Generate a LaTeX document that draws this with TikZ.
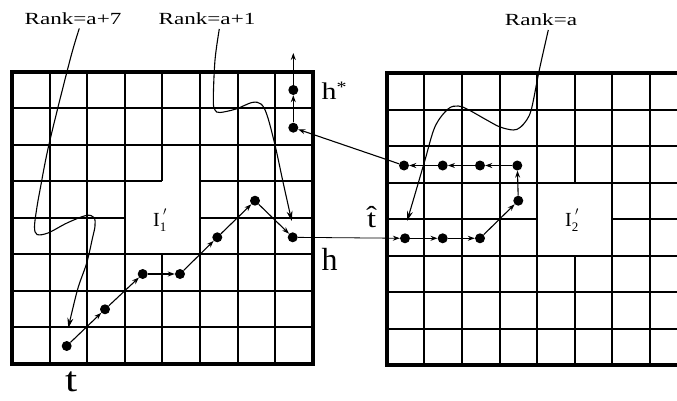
\documentclass[tikz,border=0pt]{standalone}
\usepackage{fontspec}
\setmainfont{Liberation Serif}
\newfontfamily\widefont[FakeStretch=1.36]{Liberation Serif}
\newfontfamily\midfont[FakeStretch=1.25]{Liberation Serif}
\usetikzlibrary{arrows.meta}
\newcommand{\ilabel}[1]{I\raisebox{-5pt}{\fontsize{13}{13}\selectfont #1}\llap{\raisebox{11pt}{\fontsize{12}{12}\selectfont$\prime$}}}
\begin{document}
\begin{tikzpicture}[x=1pt,y=-1pt,
  gridline/.style={line width=1.7pt},
  frame/.style={line width=4pt},
  dot/.style={circle,fill=black,inner sep=0pt,minimum size=10pt},
  link/.style={line width=1.1pt,-{Stealth[length=7pt,width=5pt]}},
  thinlink/.style={line width=0.8pt,-{Stealth[length=7pt,width=5pt]}},
  wave/.style={line width=1.1pt,-{Stealth[length=10pt,width=6pt]}},
  rank/.style={inner sep=1pt,font=\widefont\fontsize{17}{20}\selectfont},
  lab/.style={inner sep=0pt, anchor=base west},
]
\useasboundingbox (0,0) rectangle (677,401);
\clip (0,0) rectangle (677,401);
% ---------- left grid ----------
\foreach \x in {50,87,125,200,238,275} \draw[gridline] (\x,72) -- (\x,364);
\draw[gridline] (162,72) -- (162,181) (162,254) -- (162,364);
\foreach \y in {108,145,254,291,327} \draw[gridline] (12,\y) -- (313,\y);
\draw[gridline] (12,181) -- (162,181) (200,181) -- (313,181);
\draw[gridline] (12,218) -- (125,218) (200,218) -- (313,218);
\draw[frame] (12,72) rectangle (313,364);
% ---------- right grid ----------
\foreach \x in {424,462,500,537,612,650} \draw[gridline] (\x,73) -- (\x,365);
\draw[gridline] (575,73) -- (575,183) (575,256) -- (575,365);
\foreach \y in {110,146,183,256,292,329} \draw[gridline] (387,\y) -- (700,\y);
\draw[gridline] (387,219) -- (537,219) (612,219) -- (700,219);
\draw[frame] (700,73) -- (387,73) -- (387,365) -- (700,365);
% ---------- labels ----------
\node[rank] (L7) at (73,18.5) {Rank=a+7};
\node[rank] (L1) at (207,18.5) {Rank=a+1};
\node[rank] (L0) at (541,19.5) {Rank=a};
\node[lab] (I1) at (153,226) {\fontsize{20}{24}\selectfont\ilabel{1}};
\node[lab] (I2) at (565,226) {\fontsize{20}{24}\selectfont\ilabel{2}};
\node[lab] (tlab) at (65,391.5) {\midfont\fontsize{35}{40}\selectfont t};
\node[lab] (hlab) at (321.5,270.5) {\fontsize{32}{36}\selectfont h};
\node[lab] (hslab) at (321.5,100) {\midfont\fontsize{24}{28}\selectfont h\raisebox{0.3em}{\fontsize{16}{19}\selectfont *}};
\node[lab] (thlab) at (367,227) {\midfont\fontsize{26}{30}\selectfont \^{t}};
% ---------- dots ----------
\node[dot] (t) at (66.7,346) {};
\node[dot] (p2) at (105,309.3) {};
\node[dot] (p3) at (142.7,274) {};
\node[dot] (p4) at (180,274) {};
\node[dot] (p5) at (217.3,237.3) {};
\node[dot] (p6) at (255,200.7) {};
\node[dot] (h) at (292.7,237.3) {};
\node[dot] (q1) at (293.3,127.7) {};
\node[dot] (hs) at (293.3,90) {};
\coordinate (top) at (293.3,53);
\node[dot] (r1) at (405,238.3) {};
\node[dot] (r2) at (442.7,238.3) {};
\node[dot] (r3) at (480,238.3) {};
\node[dot] (r4) at (518.3,200.7) {};
\node[dot] (s4) at (517.3,165.5) {};
\node[dot] (s3) at (480,165.5) {};
\node[dot] (s2) at (442.7,165.5) {};
\node[dot] (s1) at (404,165.5) {};
% ---------- path ----------
\draw[link] (t) -- (p2);
\draw[link] (p2) -- (p3);
\draw[link] (p3) -- (p4);
\draw[link] (p4) -- (p5);
\draw[link] (p5) -- (p6);
\draw[link] (p6) -- (h);
\draw[thinlink] (h) -- (r1);
\draw[link] (r1) -- (r2);
\draw[link] (r2) -- (r3);
\draw[link] (r3) -- (r4);
\draw[link] (r4) -- (s4);
\draw[link] (s4) -- (s3);
\draw[link] (s3) -- (s2);
\draw[link] (s2) -- (s1);
\draw[link] (s1) -- (q1);
\draw[link] (q1) -- (hs);
\draw[link] (hs) -- (top);
% ---------- rank curves ----------
\coordinate (a7s) at (79.3,28.5);
\coordinate (a7e) at (68.3,328);
\coordinate (a1s) at (219.3,29);
\coordinate (a1e) at (291.7,221);
\coordinate (a0s) at (548.3,30);
\coordinate (a0e) at (407,221);
\draw[wave] plot[smooth,tension=0.55] coordinates {(a7s) (70,60) (49.3,143) (40,190) (36.5,210) (34.5,227) (37,234.5) (48,233) (67,223) (86,215.5) (94,217.5) (95,226) (92.5,238) (86.7,263) (78.3,287) (71.7,313) (a7e)};
\draw[wave] plot[smooth,tension=0.55] coordinates {(a1s) (215,60) (213.3,100) (215,110) (220,112.5) (236,109) (252,102.5) (261,104) (267,115) (275,145) (283.3,183.3) (a1e)};
\draw[wave] plot[smooth,tension=0.55] coordinates {(a0s) (539.3,70) (531.7,108) (526.7,120) (520,127.5) (513.3,130) (500,127) (486.7,120) (468,109.5) (458.3,106) (448,109) (435,126.7) (425,160) (413.3,200) (a0e)};
\end{tikzpicture}
\end{document}
